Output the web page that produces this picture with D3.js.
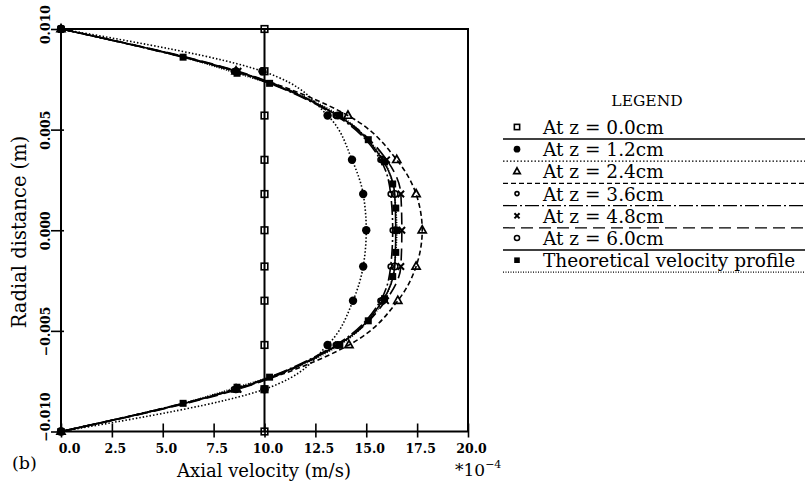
<!DOCTYPE html>
<html>
<head>
<meta charset="utf-8">
<script src="https://cdn.jsdelivr.net/npm/d3@7"></script>
<style>
  body { margin: 0; background: #fff; }
  svg { display: block; font-family: "DejaVu Serif", serif; }
  .tick text { font-family: "DejaVu Serif", serif; font-weight: bold; font-size: 12.5px; fill: #000; }
</style>
</head>
<body>
<script>
// tick values
let velTicks = [0, 2.5, 5, 7.5, 10, 12.5, 15, 17.5, 20];
let radTicks = [0.010, 0.005, 0.000, -0.005, -0.010];

// radial positions of the measured points (m)
let rExp = [0.010, 0.0079, 0.0057, 0.0035, 0.0018, 0.0, -0.0018, -0.0035, -0.0057, -0.0079, -0.010];

// axial velocity (*10^-4 m/s) at each station
let vZ00 = [10, 10, 10, 10, 10, 10, 10, 10, 10, 10, 10];
let vZ12 = [0, 9.9, 13.1, 14.3, 14.85, 15.0, 14.85, 14.35, 13.1, 10.0, 0];
let vZ24 = [0, 8.6, 14.1, 16.5, 17.45, 17.75, 17.45, 16.55, 14.15, 8.6, 0];
let vZ36 = [0, 8.5, 13.5, 15.7, 16.2, 16.3, 16.2, 15.7, 13.5, 8.5, 0];
let vZ48 = [0, 8.7, 13.6, 16.0, 16.7, 16.75, 16.7, 15.95, 13.6, 8.7, 0];
let vZ60 = [0, 8.6, 13.6, 15.8, 16.4, 16.45, 16.4, 15.8, 13.6, 8.6, 0];

// theoretical profile
let rTheory = [0.010, 0.0086, 0.0078, 0.0073, 0.0057, 0.0045, 0.0034, 0.0023, 0.0011, 0.0,
  -0.0011, -0.0023, -0.0034, -0.0045, -0.0057, -0.0073, -0.0078, -0.0086, -0.010];
let vTheory = [0, 6.0, 8.65, 10.25, 13.7, 15.1, 15.9, 16.3, 16.45, 16.5,
  16.45, 16.3, 15.9, 15.1, 13.7, 10.25, 8.65, 6.0, 0];

let labels = ["At z = 0.0cm", "At z = 1.2cm", "At z = 2.4cm", "At z = 3.6cm",
  "At z = 4.8cm", "At z = 6.0cm", "Theoretical velocity profile"];

let W = 807, H = 490;
let x0 = 61, x1 = 468, yTop = 29, yBot = 431.5;

let xScale = d3.scaleLinear().domain([0, 20]).range([x0, x1]);
let yScale = d3.scaleLinear().domain([-0.010, 0.010]).range([yBot, yTop]);

let svg = d3.select("body").append("svg")
  .attr("width", W)
  .attr("height", H);

svg.append("rect").attr("width", W).attr("height", H).attr("fill", "#fff");

// series styles
let series = [
  {r: rExp, v: vZ00, dash: null, sym: "sq", w: 2},
  {r: rExp, v: vZ12, dash: "1.5,2", sym: "dot", w: 1.6},
  {r: rExp, v: vZ24, dash: "5,3", sym: "tri", w: 1.6},
  {r: rExp, v: vZ36, dash: "14,3,2,3", sym: "ring", w: 1.6},
  {r: rExp, v: vZ48, dash: "12,6", sym: "x", w: 1.6},
  {r: rExp, v: vZ60, dash: null, sym: "ring2", w: 1.6},
  {r: rTheory, v: vTheory, dash: "1,1.5", sym: "fsq", w: 1.6}
];

function drawSym(g, sym, cx, cy, scale) {
  let s = scale || 1;
  if (sym === "sq") {
    g.append("rect").attr("x", cx - 3.3 * s).attr("y", cy - 3.3 * s)
      .attr("width", 6.6 * s).attr("height", 6.6 * s)
      .attr("fill", "none").attr("stroke", "#000").attr("stroke-width", 1.6);
  } else if (sym === "fsq") {
    g.append("rect").attr("x", cx - 3.5 * s).attr("y", cy - 3.5 * s)
      .attr("width", 7 * s).attr("height", 7 * s).attr("fill", "#000");
  } else if (sym === "dot") {
    g.append("circle").attr("cx", cx).attr("cy", cy).attr("r", 4.2 * s).attr("fill", "#000");
  } else if (sym === "tri") {
    let a = 4.5 * s;
    g.append("path")
      .attr("d", "M" + cx + "," + (cy - a) + "L" + (cx + a * 0.9) + "," + (cy + a * 0.6) +
        "L" + (cx - a * 0.9) + "," + (cy + a * 0.6) + "Z")
      .attr("fill", "none").attr("stroke", "#000").attr("stroke-width", 1.7);
  } else if (sym === "ring") {
    g.append("circle").attr("cx", cx).attr("cy", cy).attr("r", 2.5 * s)
      .attr("fill", "none").attr("stroke", "#000").attr("stroke-width", 1.6);
  } else if (sym === "ring2") {
    g.append("circle").attr("cx", cx).attr("cy", cy).attr("r", 3.2 * s)
      .attr("fill", "none").attr("stroke", "#000").attr("stroke-width", 1.5);
  } else if (sym === "x") {
    let a = 3.2 * s;
    g.append("path")
      .attr("d", "M" + (cx - a) + "," + (cy - a) + "L" + (cx + a) + "," + (cy + a) +
        "M" + (cx - a) + "," + (cy + a) + "L" + (cx + a) + "," + (cy - a))
      .attr("stroke", "#000").attr("stroke-width", 2);
  }
}

let line = d3.line()
  .curve(d3.curveMonotoneY)
  .x(function(d) { return xScale(d.v); })
  .y(function(d) { return yScale(d.r); });

let plot = svg.append("g");

// curves first, markers on top
series.forEach(function(s) {
  let pts = s.r.map(function(r, i) { return {r: r, v: s.v[i]}; });
  plot.append("path")
    .datum(pts)
    .attr("fill", "none")
    .attr("stroke", "#000")
    .attr("stroke-width", s.w)
    .attr("stroke-dasharray", s.dash)
    .attr("d", line);
});
series.forEach(function(s) {
  let g = plot.append("g");
  s.r.forEach(function(r, i) {
    drawSym(g, s.sym, xScale(s.v[i]), yScale(r));
  });
});

// x axis
let xAxis = svg.append("g")
  .attr("transform", "translate(0," + yBot + ")")
  .call(d3.axisBottom(xScale).tickValues(velTicks).tickFormat(d3.format(".1f")).tickSize(6));
xAxis.select(".domain").remove();
xAxis.selectAll(".tick line").attr("y1", -8).attr("stroke-width", 1.6);
xAxis.selectAll(".tick text").attr("y", 21).attr("dy", null)
  .attr("x", function(d, i) { return i === 0 ? 8 : 3; });

// y axis
let yAxis = svg.append("g")
  .attr("transform", "translate(" + x0 + ",0)")
  .call(d3.axisLeft(yScale).tickValues(radTicks).tickFormat(d3.format(".3f")).tickSize(10));
yAxis.select(".domain").remove();
yAxis.selectAll(".tick line").attr("x2", 3).attr("x1", -10).attr("stroke-width", 1.6);
yAxis.selectAll(".tick text")
  .attr("x", null).attr("dy", null)
  .attr("text-anchor", "middle")
  .attr("transform", function(d, i) {
    let off = i === 0 ? -5 : (i === radTicks.length - 1 ? -15 : 0);
    return "translate(-11," + off + ") rotate(-90)";
  });

// frame
svg.append("rect")
  .attr("x", x0).attr("y", yTop)
  .attr("width", x1 - x0).attr("height", yBot - yTop)
  .attr("fill", "none").attr("stroke", "#000").attr("stroke-width", 2);

// titles
svg.append("text")
  .attr("x", 264).attr("y", 477)
  .attr("text-anchor", "middle")
  .attr("font-size", 18)
  .text("Axial velocity (m/s)");

svg.append("text")
  .attr("transform", "translate(26,232) rotate(-90)")
  .attr("text-anchor", "middle")
  .attr("font-size", 19.5)
  .text("Radial distance (m)");

let mult = svg.append("text")
  .attr("x", 455).attr("y", 476)
  .attr("font-size", 17);
mult.append("tspan").text("*10");
mult.append("tspan").attr("dy", -8).attr("font-size", 11).text("\u22124");

svg.append("text")
  .attr("x", 12).attr("y", 469)
  .attr("font-size", 17.5)
  .text("(b)");

// legend
let legend = svg.append("g");
legend.append("text")
  .attr("x", 647).attr("y", 106)
  .attr("text-anchor", "middle")
  .attr("font-size", 15.5)
  .text("LEGEND");

series.forEach(function(s, i) {
  let ly = 139 + 22.2 * i;
  legend.append("line")
    .attr("x1", 503).attr("x2", 805)
    .attr("y1", ly).attr("y2", ly)
    .attr("stroke", "#000")
    .attr("stroke-width", 1.3)
    .attr("stroke-dasharray", s.dash);
  drawSym(legend, s.sym, 517, ly - 12, 0.8);
  legend.append("text")
    .attr("x", 543).attr("y", ly - 5)
    .attr("font-size", 18.5)
    .text(labels[i]);
});
</script>
</body>
</html>
